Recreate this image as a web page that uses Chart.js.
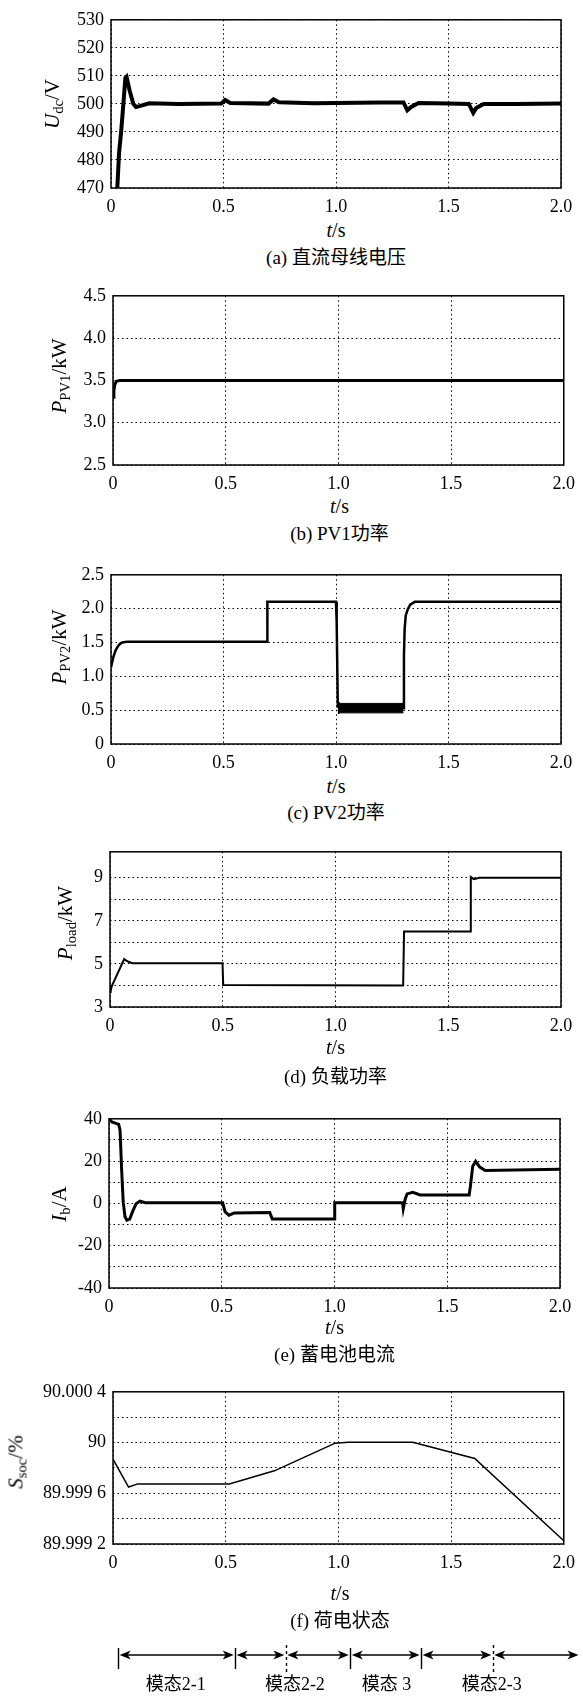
<!DOCTYPE html>
<html>
<head>
<meta charset="utf-8">
<script src="https://cdn.jsdelivr.net/npm/chart.js@4.4.1/dist/chart.umd.min.js"></script>
<style>
body { margin: 0; background: #fff; }
#page { position: relative; width: 583px; height: 1697px; overflow: hidden;
        font-family: "Liberation Serif", "Times New Roman", "DejaVu Serif", "Noto Sans CJK SC", serif; color: #000; }
canvas { position: absolute; left: 0; }
.lbl { position: absolute; white-space: nowrap; transform: translate(-50%, -50%); line-height: 1; z-index: 2; }
.ytitle { position: absolute; white-space: nowrap; transform: translate(-50%, -50%) rotate(-90deg);
          font-size: 21px; line-height: 1; z-index: 2; }
sub { font-size: 0.7em; vertical-align: -0.3em; line-height: 0; }
.xt { font-size: 20px; }
.cap { font-size: 19px; }
</style>
</head>
<body>
<div id="page"></div>
<script>
// shared time axis
const xTicks = [0, 0.5, 1.0, 1.5, 2.0];
const xTickLabels = ['0', '0.5', '1.0', '1.5', '2.0'];

// (a) dc bus voltage
const udcTime = [0.02, 0.028, 0.036, 0.045, 0.053, 0.064, 0.069, 0.083, 0.099, 0.111,
                 0.127, 0.17, 0.3, 0.49, 0.507, 0.53, 0.7, 0.722, 0.747, 0.9,
                 1.0, 1.2, 1.3, 1.317, 1.334, 1.367, 1.5, 1.59, 1.61, 1.623,
                 1.656, 1.8, 2.0];
const udcValue = [460, 470, 482.7, 490, 498, 509.3, 509.7, 504.7, 500, 498.9,
                  499.2, 500.2, 500, 500.1, 501.4, 500.3, 500.1, 501.6, 500.6, 500.2,
                  500.3, 500.5, 500.5, 497.7, 498.9, 500.3, 500.1, 500, 496.8, 498.5,
                  500, 500, 500.1];
const udcTicks = [470, 480, 490, 500, 510, 520, 530];
const udcTickLabels = ['470', '480', '490', '500', '510', '520', '530'];

// (b) PV1 power
const pv1Time = [0, 0.004, 0.008, 0.015, 0.03, 2.0];
const pv1Value = [3.3, 3.38, 3.45, 3.49, 3.5, 3.5];
const pv1Ticks = [2.5, 3.0, 3.5, 4.0, 4.5];
const pv1TickLabels = ['2.5', '3.0', '3.5', '4.0', '4.5'];

// (c) PV2 power
const pv2Time = [0, 0.01, 0.02, 0.03, 0.04, 0.05, 0.07, 0.694, 0.695, 1.0,
                 1.003, 1.008, 1.05, 1.3, 1.302, 1.305, 1.31, 1.32, 1.33, 1.35, 2.0];
const pv2Value = [1.13, 1.28, 1.38, 1.44, 1.48, 1.5, 1.51, 1.51, 2.1, 2.1,
                  1.8, 0.55, 0.53, 0.53, 1.3, 1.7, 1.9, 2.0, 2.06, 2.1, 2.1];
// ripple envelope while PV2 is limited
const pv2BandTime = [1.008, 1.02, 1.3];
const pv2BandTop = [0.63, 0.6, 0.6];
const pv2BandBottom = [0.45, 0.46, 0.46];
const pv2Ticks = [0, 0.5, 1.0, 1.5, 2.0, 2.5];
const pv2TickLabels = ['0', '0.5', '1.0', '1.5', '2.0', '2.5'];

// (d) load power
const loadTime = [0, 0.003, 0.008, 0.063, 0.072, 0.082, 0.099, 0.499, 0.502, 1.3,
                  1.304, 1.598, 1.6, 1.613, 1.638, 2.0];
const loadValue = [3.7, 3.75, 3.97, 5.22, 5.15, 5.1, 5.03, 5.03, 4.02, 4.0,
                   6.5, 6.5, 9.03, 8.93, 9.0, 9.0];
const loadTicks = [3, 4, 5, 6, 7, 8, 9];
const loadTickLabels = ['3', '', '5', '', '7', '', '9'];

// (e) battery current
const ibTime = [0, 0.013, 0.043, 0.049, 0.056, 0.063, 0.071, 0.079, 0.092, 0.104,
                0.12, 0.137, 0.161, 0.504, 0.515, 0.532, 0.556, 0.713, 0.724, 0.998,
                1.001, 1.302, 1.305, 1.314, 1.322, 1.347, 1.38, 1.597, 1.603, 1.613,
                1.626, 1.643, 1.668, 2.0];
const ibValue = [40, 38.5, 37.4, 34.6, 16, 0.6, -6.3, -7.9, -7.4, -4,
                 -0.2, 1.1, 0.3, 0.3, -4, -5.6, -4.5, -4.3, -7.4, -7.4,
                 0.3, 0.3, -2.5, 2.2, 4.5, 5.2, 4, 4, 8.3, 17.6,
                 19.9, 17.3, 15.6, 16.1];
const ibTicks = [-40, -30, -20, -10, 0, 10, 20, 30, 40];
const ibTickLabels = ['-40', '', '-20', '', '0', '', '20', '', '40'];

// (f) state of charge
const socTime = [0, 0.069, 0.11, 0.516, 0.716, 0.986, 1.043, 1.33, 1.605, 2.0];
const socValue = [89.999869, 89.999649, 89.999674, 89.999674, 89.999777,
                  89.999995, 90.000003, 90.000003, 89.999874, 89.999226];
const socTicks = [89.9992, 89.9994, 89.9996, 89.9998, 90.0, 90.0002, 90.0004];
const socTickLabels = ['89.999 2', '', '89.999 6', '', '90', '', '90.000 4'];

// operating modes under panel (f)
const modeBounds = [0.023, 0.542, 0.767, 1.053, 1.367, 1.685, 2.072];
const modeBoundStyle = ['solid', 'solid', 'dashed', 'solid', 'solid', 'dashed', 'none'];
const modeNames = ['模态2-1', '模态2-2', '模态 3', '模态2-3'];
const modeNameTimes = [0.278, 0.807, 1.213, 1.68];

const page = document.getElementById('page');
const W = 583;
const PAD_TOP = 14;
const AXIS_H = 30;
const SERIF = '"Liberation Serif", "Times New Roman", "DejaVu Serif", serif';
const tickFont = { family: SERIF, size: 18 };

const framePlugin = {
  id: 'frame',
  afterDraw(chart) {
    const { ctx, chartArea: a } = chart;
    ctx.save();
    ctx.strokeStyle = '#000';
    ctx.lineWidth = 1.5;
    ctx.strokeRect(a.left, a.top, a.right - a.left, a.bottom - a.top);
    ctx.restore();
  }
};

function arrowHead(ctx, x, y, dir) {
  ctx.beginPath();
  ctx.moveTo(x, y);
  ctx.lineTo(x - dir * 11, y - 4.5);
  ctx.lineTo(x - dir * 8, y);
  ctx.lineTo(x - dir * 11, y + 4.5);
  ctx.closePath();
  ctx.fill();
}

function modePlugin(canvasTop) {
  return {
    id: 'modes',
    afterDraw(chart) {
      const ctx = chart.ctx;
      const xs = chart.scales.x;
      const lineY = 1655 - canvasTop;
      ctx.save();
      ctx.strokeStyle = '#000';
      ctx.fillStyle = '#000';
      ctx.lineWidth = 1.4;
      modeBounds.forEach((t, i) => {
        const px = Math.round(xs.getPixelForValue(t)) + 0.5;
        if (modeBoundStyle[i] === 'none') return;
        ctx.setLineDash(modeBoundStyle[i] === 'dashed' ? [3, 3] : []);
        ctx.beginPath();
        const y0 = modeBoundStyle[i] === 'dashed' ? 1645 : 1648;
        const y1 = modeBoundStyle[i] === 'dashed' ? 1672 : 1669;
        ctx.moveTo(px, y0 - canvasTop);
        ctx.lineTo(px, y1 - canvasTop);
        ctx.stroke();
      });
      ctx.setLineDash([]);
      for (let i = 0; i < modeBounds.length - 1; i++) {
        const a = xs.getPixelForValue(modeBounds[i]) + 1.5;
        const b = xs.getPixelForValue(modeBounds[i + 1]) - 1.5;
        ctx.beginPath();
        ctx.moveTo(a + 6, lineY);
        ctx.lineTo(b - 6, lineY);
        ctx.stroke();
        arrowHead(ctx, a, lineY, -1);
        arrowHead(ctx, b, lineY, 1);
      }
      ctx.font = '18px ' + SERIF + ', "Noto Sans CJK SC"';
      ctx.textAlign = 'center';
      ctx.textBaseline = 'middle';
      modeNames.forEach((name, i) => {
        ctx.fillText(name, xs.getPixelForValue(modeNameTimes[i]), 1685 - canvasTop);
      });
      ctx.restore();
    }
  };
}

function series(time, value, width, fill) {
  return {
    data: time.map((t, i) => ({ x: t, y: value[i] })),
    borderColor: '#000',
    backgroundColor: '#000',
    borderWidth: width,
    pointRadius: 0,
    tension: 0,
    fill: fill || false,
    clip: 0
  };
}

function addText(cls, html, x, y) {
  const d = document.createElement('div');
  d.className = cls;
  d.innerHTML = html;
  d.style.left = x + 'px';
  d.style.top = y + 'px';
  page.appendChild(d);
}

function makePanel(p) {
  const top = p.box.top - PAD_TOP;
  const extra = p.extraBottom || 0;
  const canvas = document.createElement('canvas');
  canvas.width = W;
  canvas.height = p.box.bottom - top + AXIS_H + extra;
  canvas.style.top = top + 'px';
  page.appendChild(canvas);

  const gridOpts = { color: '#000', lineWidth: 1, drawTicks: false };
  const borderOpts = { display: false, dash: [1.5, 3] };

  new Chart(canvas, {
    type: 'line',
    data: { datasets: p.datasets },
    options: {
      responsive: false,
      animation: false,
      devicePixelRatio: 1,
      layout: { padding: { top: PAD_TOP, right: W - p.box.right, left: 0, bottom: extra } },
      plugins: { legend: { display: false }, tooltip: { enabled: false } },
      scales: {
        x: {
          type: 'linear', min: 0, max: 2,
          afterFit: s => { s.height = AXIS_H; },
          afterBuildTicks: s => { s.ticks = xTicks.map(v => ({ value: v })); },
          ticks: { callback: (v, i) => xTickLabels[i], font: tickFont, color: '#000',
                   padding: 8, maxRotation: 0, autoSkip: false },
          grid: gridOpts,
          border: borderOpts
        },
        y: {
          type: 'linear', min: p.yMin, max: p.yMax,
          afterFit: s => { s.width = p.box.left; },
          afterBuildTicks: s => { s.ticks = p.yTicks.map(v => ({ value: v })); },
          ticks: { callback: (v, i) => p.yTickLabels[i], font: tickFont, color: '#000',
                   padding: 7, autoSkip: false },
          grid: gridOpts,
          border: borderOpts
        }
      }
    },
    plugins: [framePlugin].concat(p.extraPlugins ? p.extraPlugins(top) : [])
  });

  const cx = (p.box.left + p.box.right) / 2;
  addText('ytitle', p.yTitle, p.yTitlePos[0], p.yTitlePos[1]);
  addText('lbl xt', '<i>t</i>/s', cx, p.xTitleY);
  addText('lbl cap', p.caption, cx, p.captionY);
}

const panels = [
  {
    box: { left: 111, right: 561, top: 16, bottom: 188 },
    yMin: 470, yMax: 530, yTicks: udcTicks, yTickLabels: udcTickLabels,
    datasets: [series(udcTime, udcValue, 4)],
    yTitle: '<i>U</i><sub>dc</sub>/V', yTitlePos: [52, 104],
    xTitleY: 230, caption: '(a) 直流母线电压', captionY: 257
  },
  {
    box: { left: 113, right: 566, top: 292, bottom: 465 },
    yMin: 2.5, yMax: 4.5, yTicks: pv1Ticks, yTickLabels: pv1TickLabels,
    datasets: [series(pv1Time, pv1Value, 3)],
    yTitle: '<i>P</i><sub>PV1</sub>/kW', yTitlePos: [59, 376],
    xTitleY: 506, caption: '(b) PV1功率', captionY: 533
  },
  {
    box: { left: 111, right: 561, top: 571, bottom: 744 },
    yMin: 0, yMax: 2.5, yTicks: pv2Ticks, yTickLabels: pv2TickLabels,
    datasets: [series(pv2Time, pv2Value, 2.5),
               series(pv2BandTime, pv2BandTop, 1),
               series(pv2BandTime, pv2BandBottom, 1, '-1')],
    yTitle: '<i>P</i><sub>PV2</sub>/kW', yTitlePos: [59, 647],
    xTitleY: 786, caption: '(c) PV2功率', captionY: 812
  },
  {
    box: { left: 110, right: 561, top: 848, bottom: 1007 },
    yMin: 3, yMax: 10.2, yTicks: loadTicks, yTickLabels: loadTickLabels,
    datasets: [series(loadTime, loadValue, 2)],
    yTitle: '<i>P</i><sub>load</sub>/kW', yTitlePos: [65, 923],
    xTitleY: 1047, caption: '(d) 负载功率', captionY: 1076
  },
  {
    box: { left: 109, right: 560, top: 1115, bottom: 1288 },
    yMin: -40, yMax: 40, yTicks: ibTicks, yTickLabels: ibTickLabels,
    datasets: [series(ibTime, ibValue, 3)],
    yTitle: '<i>I</i><sub>b</sub>/A', yTitlePos: [59, 1204],
    xTitleY: 1327, caption: '(e) 蓄电池电流', captionY: 1354
  },
  {
    box: { left: 113, right: 567, top: 1388, bottom: 1544 },
    yMin: 89.9992, yMax: 90.0004, yTicks: socTicks, yTickLabels: socTickLabels,
    datasets: [series(socTime, socValue, 1.5)],
    yTitle: '<i>S</i><sub>soc</sub>/%', yTitlePos: [16, 1462],
    xTitleY: 1593, caption: '(f) 荷电状态', captionY: 1620,
    extraBottom: 1697 - 1544 - AXIS_H,
    extraPlugins: top => [modePlugin(top)]
  }
];

panels.forEach(makePanel);
</script>
</body>
</html>
